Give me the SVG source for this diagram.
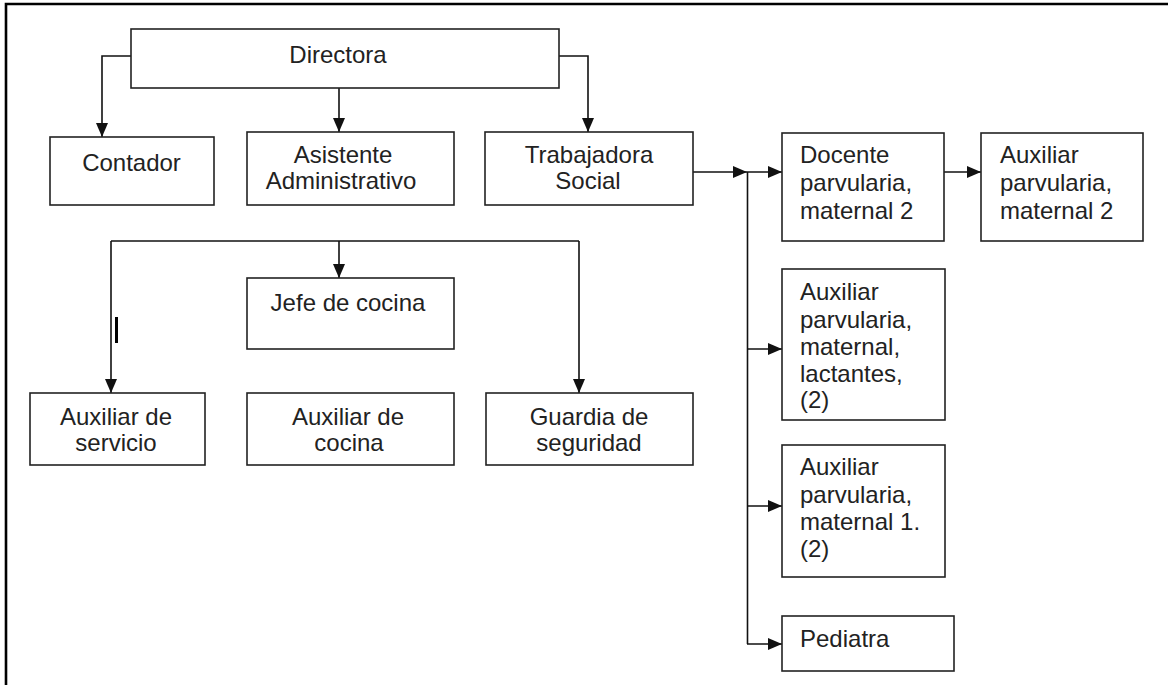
<svg xmlns="http://www.w3.org/2000/svg" width="1168" height="685" viewBox="0 0 1168 685">
<defs>
<marker id="ah" markerUnits="userSpaceOnUse" markerWidth="14" markerHeight="12" refX="14" refY="6" orient="auto">
<path d="M0,0 L14,6 L0,12 Z" fill="#111"/>
</marker>
</defs>
<style>
.box{fill:#fff;stroke:#222;stroke-width:1.6}
.t{font-family:"Liberation Sans",Arial,sans-serif;font-size:24px;fill:#222}
.c{text-anchor:middle}
.ln{fill:none;stroke:#111;stroke-width:1.6}
.arr{fill:none;stroke:#111;stroke-width:1.6;marker-end:url(#ah)}
</style>
<rect width="1168" height="685" fill="#fff"/>
<g id="frame">
<path d="M6,685 V4 H1168" fill="none" stroke="#000" stroke-width="2.6"/>
</g>
<g id="connectors">
<path class="arr" d="M131,56 H102 V137"/>
<path class="arr" d="M339,88 V132"/>
<path class="arr" d="M559,56 H588 V132"/>
<path class="arr" d="M693,172 H747"/>
<path class="ln" d="M747.5,172 V644"/>
<path class="arr" d="M747,172 H782"/>
<path class="arr" d="M747,349 H782"/>
<path class="arr" d="M747,506 H782"/>
<path class="arr" d="M747,644 H782"/>
<path class="arr" d="M944,172 H981"/>
<path class="ln" d="M111,241 H579"/>
<path class="arr" d="M111,241 V393"/>
<path class="arr" d="M339,241 V278"/>
<path class="arr" d="M579,241 V393"/>
<path d="M116.5,317 V343" stroke="#000" stroke-width="3" fill="none"/>
</g>
<g id="directora">
<rect class="box" x="131" y="29" width="428" height="59"/>
<text class="t c" x="338" y="63">Directora</text>
</g>
<g id="contador">
<rect class="box" x="50" y="137" width="164" height="68"/>
<text class="t c" x="131.5" y="171">Contador</text>
</g>
<g id="asistente">
<rect class="box" x="247" y="132" width="207" height="73"/>
<text class="t c" x="343" y="163">Asistente</text>
<text class="t c" x="341" y="189">Administrativo</text>
</g>
<g id="trabajadora">
<rect class="box" x="485" y="132" width="208" height="73"/>
<text class="t c" x="589" y="163">Trabajadora</text>
<text class="t c" x="588" y="189">Social</text>
</g>
<g id="docente">
<rect class="box" x="782" y="133" width="162" height="108"/>
<text class="t" x="800" y="163">Docente</text>
<text class="t" x="800" y="191">parvularia,</text>
<text class="t" x="800" y="219">maternal 2</text>
</g>
<g id="auxiliar-m2">
<rect class="box" x="981" y="133" width="162" height="108"/>
<text class="t" x="1000" y="163">Auxiliar</text>
<text class="t" x="1000" y="191">parvularia,</text>
<text class="t" x="1000" y="219">maternal 2</text>
</g>
<g id="auxiliar-lactantes">
<rect class="box" x="782" y="269" width="163" height="151"/>
<text class="t" x="800" y="300">Auxiliar</text>
<text class="t" x="800" y="328">parvularia,</text>
<text class="t" x="800" y="355">maternal,</text>
<text class="t" x="800" y="382">lactantes,</text>
<text class="t" x="800" y="408">(2)</text>
</g>
<g id="auxiliar-m1">
<rect class="box" x="782" y="445" width="163" height="132"/>
<text class="t" x="800" y="475">Auxiliar</text>
<text class="t" x="800" y="503">parvularia,</text>
<text class="t" x="800" y="530">maternal 1.</text>
<text class="t" x="800" y="557">(2)</text>
</g>
<g id="pediatra">
<rect class="box" x="782" y="616" width="172" height="55"/>
<text class="t" x="800" y="647">Pediatra</text>
</g>
<g id="jefe-cocina">
<rect class="box" x="247" y="278" width="207" height="71"/>
<text class="t c" x="348" y="311">Jefe de cocina</text>
</g>
<g id="auxiliar-servicio">
<rect class="box" x="30" y="393" width="175" height="72"/>
<text class="t c" x="116" y="425">Auxiliar de</text>
<text class="t c" x="116" y="451">servicio</text>
</g>
<g id="auxiliar-cocina">
<rect class="box" x="247" y="393" width="207" height="72"/>
<text class="t c" x="348" y="425">Auxiliar de</text>
<text class="t c" x="349" y="451">cocina</text>
</g>
<g id="guardia">
<rect class="box" x="486" y="393" width="207" height="72"/>
<text class="t c" x="589" y="425">Guardia de</text>
<text class="t c" x="589" y="451">seguridad</text>
</g>
</svg>
